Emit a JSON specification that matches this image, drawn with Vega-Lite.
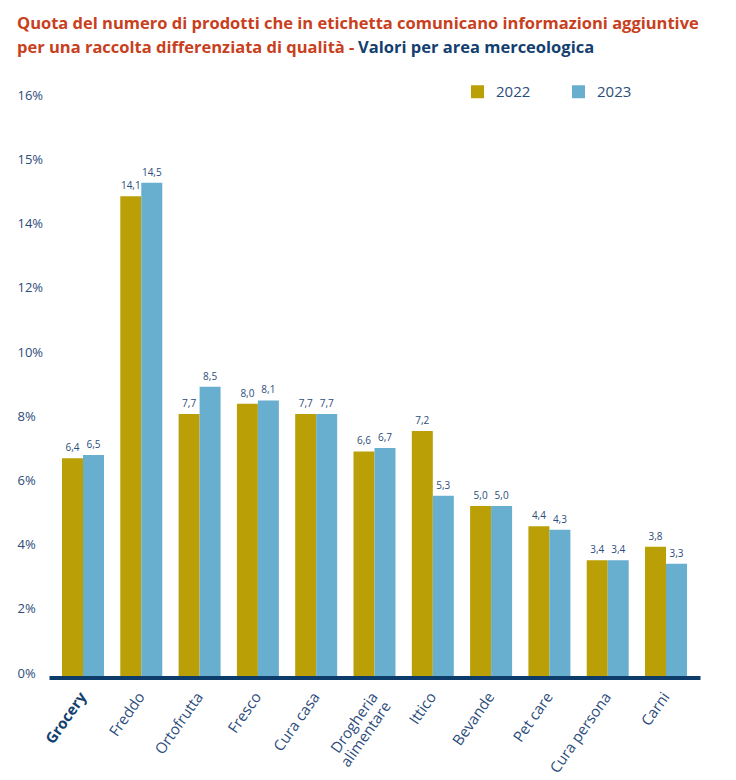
{
  "$schema": "https://vega.github.io/schema/vega-lite/v6.json",
  "width": 651,
  "height": 580,
  "padding": {"left": 17, "top": 15, "right": 10, "bottom": 5},
  "title": {
    "text": "Valori per area merceologica",
    "subtitle": ["Quota del numero di prodotti che in etichetta comunicano informazioni aggiuntive", "per una raccolta differenziata di qualità -"],
    "encoding": {"dx": {"value": 341}, "dy": {"value": 24}},
    "anchor": "start",
    "font": "Open Sans",
    "fontSize": 16.5,
    "fontWeight": "bold",
    "color": "#13406F",
    "lineHeight": 24,
    "subtitleFont": "Open Sans",
    "subtitleFontSize": 16.5,
    "subtitleFontWeight": "bold",
    "subtitleColor": "#C8401D",
    "subtitleLineHeight": 24,
    "subtitlePadding": -16.5,
    "offset": 28
  },
  "data": {
    "values": [
      {"area": "Grocery", "anno": "2022", "valore": 6.4},
      {"area": "Grocery", "anno": "2023", "valore": 6.5},
      {"area": "Freddo", "anno": "2022", "valore": 14.1},
      {"area": "Freddo", "anno": "2023", "valore": 14.5},
      {"area": "Ortofrutta", "anno": "2022", "valore": 7.7},
      {"area": "Ortofrutta", "anno": "2023", "valore": 8.5},
      {"area": "Fresco", "anno": "2022", "valore": 8.0},
      {"area": "Fresco", "anno": "2023", "valore": 8.1},
      {"area": "Cura casa", "anno": "2022", "valore": 7.7},
      {"area": "Cura casa", "anno": "2023", "valore": 7.7},
      {"area": "Drogheria alimentare", "anno": "2022", "valore": 6.6},
      {"area": "Drogheria alimentare", "anno": "2023", "valore": 6.7},
      {"area": "Ittico", "anno": "2022", "valore": 7.2},
      {"area": "Ittico", "anno": "2023", "valore": 5.3},
      {"area": "Bevande", "anno": "2022", "valore": 5.0},
      {"area": "Bevande", "anno": "2023", "valore": 5.0},
      {"area": "Pet care", "anno": "2022", "valore": 4.4},
      {"area": "Pet care", "anno": "2023", "valore": 4.3},
      {"area": "Cura persona", "anno": "2022", "valore": 3.4},
      {"area": "Cura persona", "anno": "2023", "valore": 3.4},
      {"area": "Carni", "anno": "2022", "valore": 3.8},
      {"area": "Carni", "anno": "2023", "valore": 3.3}
    ]
  },
  "encoding": {
    "x": {
      "field": "area",
      "type": "nominal",
      "sort": null,
      "scale": {"paddingInner": 0.28, "paddingOuter": 0.223},
      "axis": {
        "title": null,
        "domain": true,
        "domainColor": "#0E3C6A",
        "domainWidth": 4,
        "ticks": false,
        "offset": 1.5,
        "labelAngle": -55,
        "labelFont": "Open Sans",
        "labelFontSize": 15,
        "labelPadding": 16,
        "labelLineHeight": 16,
        "labelColor": {"condition": {"test": "datum.value === 'Grocery'", "value": "#13406F"}, "value": "#2C4C7C"},
        "labelFontWeight": {"condition": {"test": "datum.value === 'Grocery'", "value": "bold"}, "value": "normal"},
        "labelExpr": "datum.value === 'Drogheria alimentare' ? ['Drogheria', 'alimentare'] : datum.label"
      }
    },
    "xOffset": {"field": "anno", "type": "nominal", "scale": {"paddingInner": 0, "paddingOuter": 0}},
    "y": {
      "field": "valore",
      "type": "quantitative",
      "scale": {"domain": [0, 17.05], "nice": false},
      "axis": {
        "title": null,
        "domain": false,
        "ticks": false,
        "grid": false,
        "values": [0, 1.8872, 3.7744, 5.6616, 7.5488, 9.436, 11.3232, 13.2104, 15.0976, 16.9848],
        "labelExpr": "datum.value < 14 ? format(round(datum.value / 0.9436), 'd') + '%' : (datum.value < 16 ? '15%' : '16%')",
        "labelAlign": "left",
        "labelBaseline": "middle",
        "labelPadding": 32,
        "labelOffset": -3,
        "labelFont": "Open Sans",
        "labelFontSize": 13,
        "labelColor": "#2C4C7C"
      }
    }
  },
  "layer": [
    {
      "mark": {"type": "bar"},
      "encoding": {
        "color": {
          "field": "anno",
          "type": "nominal",
          "scale": {"domain": ["2022", "2023"], "range": ["#BA9F06", "#68AECE"]},
          "legend": {
            "orient": "none",
            "legendX": 421,
            "legendY": -12,
            "direction": "horizontal",
            "title": null,
            "symbolType": "square",
            "symbolSize": 169,
            "symbolStrokeWidth": 0,
            "symbolOpacity": 1,
            "labelFont": "Open Sans",
            "labelFontSize": 15,
            "labelColor": "#2C4C7C",
            "labelOffset": 11,
            "columnPadding": 40
          }
        }
      }
    },
    {
      "mark": {"type": "text", "baseline": "bottom", "dy": -5, "font": "Open Sans", "fontSize": 10, "color": "#2C4C7C"},
      "encoding": {
        "text": {"field": "valore", "type": "quantitative", "format": ".1f"}
      }
    }
  ],
  "config": {
    "view": {"stroke": null},
    "axis": {"grid": false},
    "locale": {"number": {"decimal": ",", "thousands": ".", "grouping": [3], "currency": ["€", ""]}}
  }
}
